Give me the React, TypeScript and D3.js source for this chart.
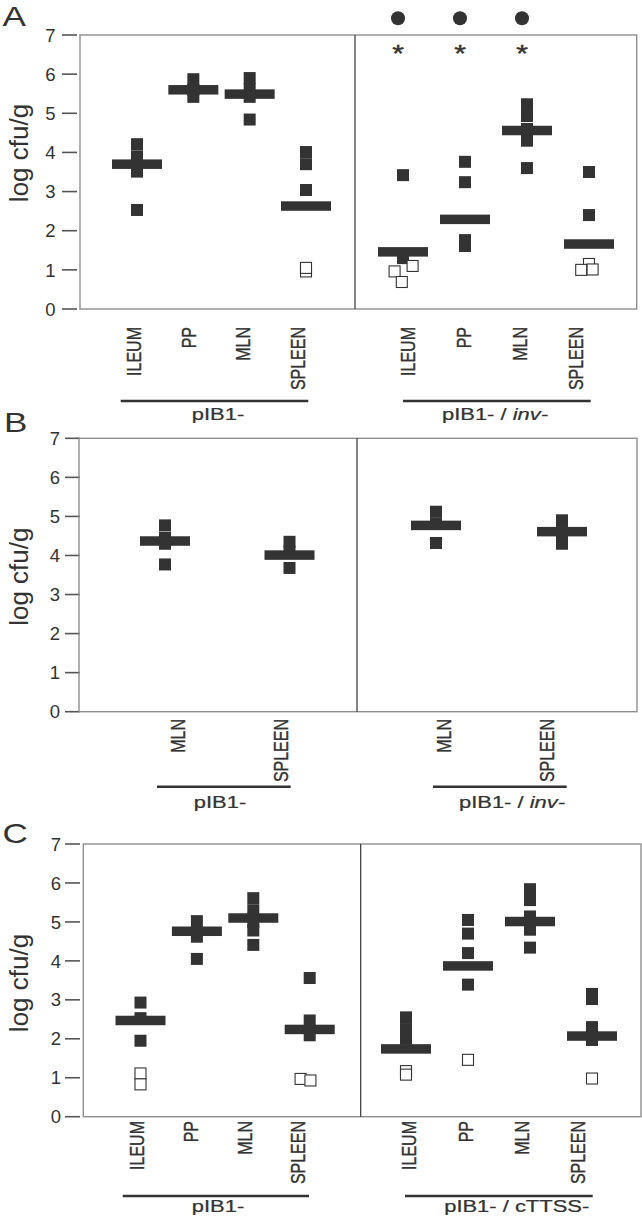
import React from "react";
import * as d3 from "d3";

// ---------------- data ----------------
const organs = ["ILEUM", "PP", "MLN", "SPLEEN"];
const organsB = ["MLN", "SPLEEN"];
const yTicks = [0, 1, 2, 3, 4, 5, 6, 7];

const groupNamesA = ["pIB1-", "pIB1- / "];
const groupItalicA = ["", "inv-"];
const groupNamesB = ["pIB1-", "pIB1- / "];
const groupItalicB = ["", "inv-"];
const groupNamesC = ["pIB1-", "pIB1- / cTTSS-"];
const groupItalicC = ["", ""];

// Panel A
const meansA1 = [3.7, 5.6, 5.49, 2.63];
const pointsA1 = [[4.21, 3.9, 3.51, 2.53], [5.87, 5.6, 5.42], [5.9, 5.62, 5.42, 4.84], [4.01, 3.7, 3.04]];
const openA1 = [[], [], [], [[0.96, 0], [1.05, 0]]];
const meansA2 = [1.46, 2.29, 4.56, 1.66];
const pointsA2 = [[3.42, 1.3], [3.76, 3.24, 1.76, 1.61], [5.23, 4.93, 4.6, 4.3, 3.6], [3.5, 2.4]];
const openA2 = [[[0.96, -0.7], [1.1, 0.8], [0.69, -0.1]], [], [], [[1.15, 0], [1.0, -0.65], [1.01, 0.3]]];
const sigA2 = [true, true, true, false];

// Panel B
const meansB1 = [4.37, 4.01];
const pointsB1 = [[4.77, 4.45, 4.3, 3.77], [4.35, 4.1, 3.68]];
const meansB2 = [4.77, 4.61];
const pointsB2 = [[5.12, 4.82, 4.32], [4.9, 4.6, 4.3]];

// Panel C
const meansC1 = [2.47, 4.76, 5.1, 2.24];
const pointsC1 = [[2.93, 2.53, 1.95], [5.02, 4.62, 4.05], [5.61, 5.3, 5.0, 4.78, 4.41], [3.56, 2.47, 2.09]];
const openC1 = [[[1.11, 0], [0.83, 0]], [], [], [[0.97, -0.76], [0.93, 0.06]]];
const meansC2 = [1.74, 3.87, 5.01, 2.07];
const pointsC2 = [[2.55, 2.25, 2.0], [5.05, 4.7, 4.2, 3.39], [5.84, 5.56, 5.14, 4.8, 4.34], [3.15, 3.02, 2.3, 1.97]];
const openC2 = [[[1.17, 0], [1.08, 0]], [[1.46, 0]], [], [[0.98, 0]]];

// ---------------- layout ----------------
const W = 642;
const H = 1219;
const INK = "#333333";
const FONT = "'Liberation Sans', Arial, Helvetica, sans-serif";
const SQ = 12;
const BAR_W = 50;
const BAR_H = 9.5;
const STRETCH = 1.3;

type Group = {
  cats: string[];
  means: number[];
  points: number[][];
  open: number[][][];
  name: string;
  italic: string;
  sig?: boolean[];
  dataRange: [number, number];
  labelRange: [number, number];
  lineRange: [number, number];
  nameX: number;
};

type PanelLayout = {
  letter: string;
  letterX: number;
  letterY: number;
  top: number;
  bottom: number;
  left: number;
  divider: number;
  right: number;
  tickX0: number;
  tickX1: number;
  tickLabelX: number;
  yLabelX: number;
  yLabelY: number;
  catLabelTop: number;
  lineY: number;
  nameY: number;
  groups: Group[];
};

const panels: PanelLayout[] = [
  {
    letter: "A", letterX: 2.5, letterY: 26,
    top: 35, bottom: 309, left: 80, divider: 355, right: 636.7,
    tickX0: 62, tickX1: 77, tickLabelX: 55.5,
    yLabelX: 28, yLabelY: 153,
    catLabelTop: 327, lineY: 401, nameY: 420,
    groups: [
      { cats: organs, means: meansA1, points: pointsA1, open: openA1, name: groupNamesA[0], italic: groupItalicA[0],
        dataRange: [137, 306], labelRange: [134, 297.5], lineRange: [120.7, 308.3], nameX: 218 },
      { cats: organs, means: meansA2, points: pointsA2, open: openA2, name: groupNamesA[1], italic: groupItalicA[1], sig: sigA2,
        dataRange: [403, 589], labelRange: [407.5, 575.5], lineRange: [403, 590.7], nameX: 495 },
    ],
  },
  {
    letter: "B", letterX: 4, letterY: 432,
    top: 438.3, bottom: 711.7, left: 79, divider: 357, right: 637,
    tickX0: 65, tickX1: 80, tickLabelX: 60,
    yLabelX: 28, yLabelY: 576.7,
    catLabelTop: 719, lineY: 786.7, nameY: 808,
    groups: [
      { cats: organsB, means: meansB1, points: pointsB1, open: [[], []], name: groupNamesB[0], italic: groupItalicB[0],
        dataRange: [165, 289.5], labelRange: [178, 281], lineRange: [157, 290.7], nameX: 220 },
      { cats: organsB, means: meansB2, points: pointsB2, open: [[], []], name: groupNamesB[1], italic: groupItalicB[1],
        dataRange: [436, 562], labelRange: [444, 547], lineRange: [433, 566.7], nameX: 512 },
    ],
  },
  {
    letter: "C", letterX: 2.5, letterY: 843,
    top: 844, bottom: 1116.7, left: 83.3, divider: 360.7, right: 641,
    tickX0: 65, tickX1: 80, tickLabelX: 61,
    yLabelX: 28, yLabelY: 983,
    catLabelTop: 1121, lineY: 1196, nameY: 1212,
    groups: [
      { cats: organs, means: meansC1, points: pointsC1, open: openC1, name: groupNamesC[0], italic: groupItalicC[0],
        dataRange: [140.5, 309.7], labelRange: [136.7, 298], lineRange: [122.7, 309], nameX: 218 },
      { cats: organs, means: meansC2, points: pointsC2, open: openC2, name: groupNamesC[1], italic: groupItalicC[1],
        dataRange: [406, 592], labelRange: [409, 578], lineRange: [405, 592.7], nameX: 516.7 },
    ],
  },
];

function Panel({ p }: { p: PanelLayout }) {
  const y = d3.scaleLinear().domain([0, 7]).range([p.bottom, p.top]);
  return (
    <g>
      <text x={0} y={0} fontSize={26} fill={INK} fontFamily={FONT}
        transform={`translate(${p.letterX},${p.letterY}) scale(1.35,1.08)`}>{p.letter}</text>
      <text fontSize={26} fill={INK} fontFamily={FONT} textAnchor="middle"
        transform={`translate(${p.yLabelX},${p.yLabelY}) rotate(-90)`}>log cfu/g</text>
      {yTicks.map((t) => (
        <g key={t}>
          <line x1={p.tickX0} x2={p.tickX1} y1={y(t)} y2={y(t)} stroke="#555" strokeWidth={1.6} />
          <text x={p.tickLabelX} y={y(t)} dy="0.36em" textAnchor="end" fontSize={18.5} fill={INK} fontFamily={FONT}>{t}</text>
        </g>
      ))}
      <rect x={p.left} y={p.top} width={p.right - p.left} height={p.bottom - p.top} fill="none" stroke="#8f8f8f" strokeWidth={1.4} />
      <line x1={p.divider} x2={p.divider} y1={p.top} y2={p.bottom} stroke="#333" strokeWidth={1.2} />
      {p.groups.map((g, gi) => {
        const x = d3.scalePoint<string>().domain(g.cats).range(g.dataRange);
        const xl = d3.scalePoint<string>().domain(g.cats).range(g.labelRange);
        return (
          <g key={gi}>
            {g.cats.map((c, ci) => {
              const cx = x(c) as number;
              return (
                <g key={c}>
                  <rect x={cx - BAR_W / 2} y={y(g.means[ci]) - BAR_H / 2} width={BAR_W} height={BAR_H} fill={INK} />
                  {g.points[ci].map((v, k) => (
                    <rect key={k} x={cx - SQ / 2} y={y(v) - SQ / 2} width={SQ} height={SQ} fill={INK} />
                  ))}
                  {g.open[ci].map(([v, j], k) => (
                    <rect key={"o" + k} x={cx + j * SQ - (SQ - 1) / 2} y={y(v) - (SQ - 1) / 2} width={SQ - 1} height={SQ - 1}
                      fill="#fff" stroke={INK} strokeWidth={1.1} />
                  ))}
                  {g.sig && g.sig[ci] && (
                    <g>
                      <circle cx={cx - 5} cy={p.top - 16.7} r={7} fill={INK} />
                      <text fontSize={24} fill={INK} fontFamily={FONT} textAnchor="middle" stroke={INK} strokeWidth={0.4}
                        transform={`translate(${cx - 5},${p.top + 27}) scale(1.25,1)`}>*</text>
                    </g>
                  )}
                  <text fontSize={16} fill={INK} fontFamily={FONT} textAnchor="end" dy="0.36em" stroke={INK} strokeWidth={0.3}
                    transform={`translate(${xl(c)},${p.catLabelTop}) scale(${STRETCH},1) rotate(-90)`}>{c}</text>
                </g>
              );
            })}
            <line x1={g.lineRange[0]} x2={g.lineRange[1]} y1={p.lineY} y2={p.lineY} stroke={INK} strokeWidth={2.4} />
            <text fontSize={16.5} fill={INK} fontFamily={FONT} textAnchor="middle" stroke={INK} strokeWidth={0.25}
              transform={`translate(${g.nameX},${p.nameY}) scale(1.33,1)`}>
              {g.name}
              {g.italic && <tspan fontStyle="italic">{g.italic}</tspan>}
            </text>
          </g>
        );
      })}
    </g>
  );
}

export default function App() {
  return (
    <svg width={W} height={H} viewBox={`0 0 ${W} ${H}`}
      style={{ position: "absolute", left: 0, top: 0, background: "#fff" }}>
      <rect x={0} y={0} width={W} height={H} fill="#fff" />
      {panels.map((p) => (
        <Panel key={p.letter} p={p} />
      ))}
    </svg>
  );
}
